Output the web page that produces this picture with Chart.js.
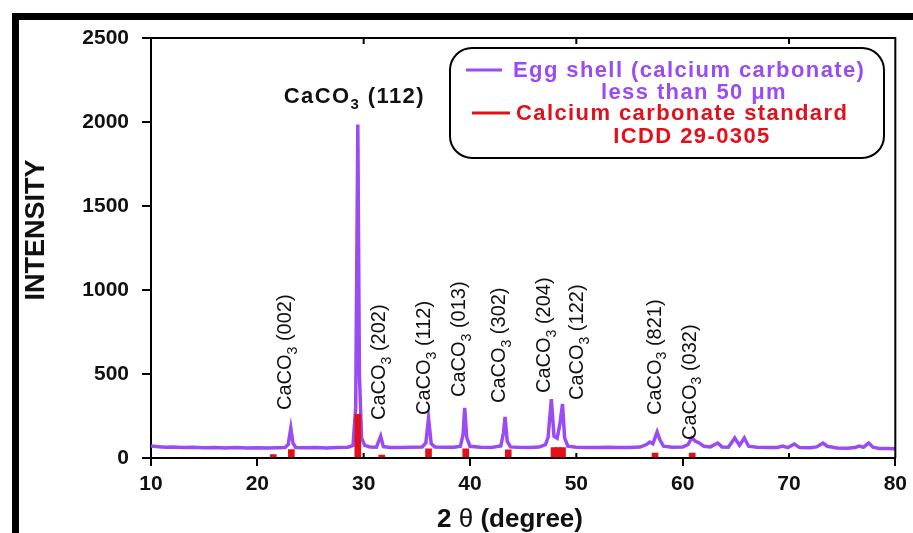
<!DOCTYPE html>
<html>
<head>
<meta charset="utf-8">
<script src="https://cdn.jsdelivr.net/npm/chart.js@4.4.1/dist/chart.umd.min.js"></script>
<style>
  html, body { margin: 0; padding: 0; background: #fff; }
  #wrap { width: 913px; height: 533px; }
</style>
</head>
<body>
<div id="wrap"><canvas id="xrdChart" width="913" height="533"></canvas></div>
<script>
// XRD pattern of egg shell powder
const eggAngle = [10, 10.5, 11, 11.5, 12, 13, 14, 15, 16, 17, 18, 19, 20, 21, 22, 22.6, 22.9, 23.15, 23.35, 23.6,
  24.5, 25.5, 26.5, 27.5, 28.5, 29.0, 29.25, 29.45, 29.6, 29.8, 30.1, 30.6, 31.2, 31.6, 31.85,
  32.5, 33.5, 34.5, 35.5, 35.85, 36.1, 36.35, 36.7, 37.5, 38.5, 39.1, 39.35, 39.5, 39.7, 40.0,
  41, 42, 42.9, 43.15, 43.3, 43.5, 43.8, 44.5, 45.5, 46.5, 47.1, 47.35, 47.65, 47.9, 48.2, 48.45, 48.7, 48.9, 49.2,
  50, 51, 52, 53, 54, 55, 56, 56.6, 56.9, 57.2, 57.6, 57.85, 58.2, 59, 60, 60.5, 60.85, 61.2, 61.6, 62.0, 62.6,
  63.3, 63.7, 64.3, 64.9, 65.35, 65.8, 66.2, 67, 68, 68.9, 69.4, 69.9, 70.5, 71, 72, 72.6, 73.2, 73.6,
  74.5, 75.5, 76.2, 76.6, 77.0, 77.5, 77.9, 78.5, 79.3, 80];
const eggCounts = [72, 68, 66, 64, 66, 62, 64, 61, 63, 60, 62, 60, 61, 60, 61, 62, 80, 178, 90, 63,
  61, 62, 60, 62, 64, 75, 300, 1985, 500, 120, 75, 66, 64, 130, 68,
  63, 62, 64, 66, 90, 238, 85, 66, 64, 64, 70, 140, 298, 120, 70,
  64, 63, 72, 150, 244, 100, 66, 64, 63, 65, 80, 125, 351, 130, 118, 200, 321, 120, 70,
  64, 63, 62, 64, 62, 63, 65, 80, 95, 85, 155, 110, 70, 64, 65, 80, 119, 100, 88, 70, 66,
  89, 66, 64, 119, 75, 119, 70, 64, 62, 63, 71, 62, 83, 62, 61, 66, 89, 70,
  60, 58, 62, 71, 64, 89, 64, 57, 56, 55];

// ICDD 29-0305 reference lines
const stdAngle = [21.5, 23.2, 29.45, 31.7, 36.1, 39.6, 43.6, 47.9, 48.3, 48.7, 57.4, 60.9];
const stdCounts = [20, 50, 260, 18, 54, 54, 48, 62, 62, 62, 30, 30];

// Miller index tags above the peaks
const tagHkl = ['(002)', '(202)', '(112)', '(013)', '(302)', '(204)', '(122)', '(821)', '(032)'];
const tagAngle = [22.97, 31.8, 36.0, 39.3, 43.1, 47.3, 50.4, 57.7, 61.0];
const tagBase = [286, 226, 256, 363, 327, 387, 345, 256, 107];

const xTicks = [10, 20, 30, 40, 50, 60, 70, 80];
const yTicks = [0, 500, 1000, 1500, 2000, 2500];
const innerTicks = [30, 50, 70];

const eggLegend = ['Egg shell (calcium carbonate)', 'less than 50 \u03bcm'];
const stdLegend = ['Calcium carbonate standard', 'ICDD 29-0305'];

const PURPLE = '#9a4cf2';
const RED = '#e3101c';
const FONT = "'Liberation Sans', Arial, sans-serif";

Chart.defaults.font.family = FONT;
Chart.defaults.color = '#111';

function drawCaCO3(ctx, x, y, suffix, size) {
  // "CaCO" + subscript 3 + suffix, left aligned at (x, y) on the middle line
  ctx.textAlign = 'left';
  ctx.textBaseline = 'middle';
  ctx.fillText('CaCO', x, y);
  let w = ctx.measureText('CaCO').width;
  const main = ctx.font;
  ctx.font = ctx.font.replace(/\d+px/, Math.round(size * 0.68) + 'px');
  ctx.fillText('3', x + w, y + size * 0.36);
  w += ctx.measureText('3').width;
  ctx.font = main;
  ctx.fillText(' ' + suffix, x + w, y);
}

const decorations = {
  id: 'decorations',
  beforeDraw(chart) {
    const ctx = chart.ctx;
    ctx.save();
    ctx.fillStyle = '#fff';
    ctx.fillRect(0, 0, chart.width, chart.height);
    ctx.fillStyle = '#000';
    ctx.fillRect(12, 13, chart.width - 12, 7);
    ctx.fillRect(12, 13, 7, chart.height - 13);
    ctx.restore();
  },
  afterDraw(chart) {
    const { ctx, chartArea: a, scales: { x, y } } = chart;
    ctx.save();

    // box top and right, plus inward ticks
    ctx.strokeStyle = '#000';
    ctx.lineWidth = 2;
    ctx.beginPath();
    ctx.moveTo(a.left, a.top);
    ctx.lineTo(a.right, a.top);
    ctx.lineTo(a.right, a.bottom);
    innerTicks.forEach(v => {
      const px = x.getPixelForValue(v);
      ctx.moveTo(px, a.top);
      ctx.lineTo(px, a.top + 6);
      ctx.moveTo(px, a.bottom);
      ctx.lineTo(px, a.bottom - 5);
    });
    ctx.stroke();

    // axis titles
    ctx.fillStyle = '#111';
    ctx.save();
    ctx.translate(37, 230);
    ctx.rotate(-Math.PI / 2);
    ctx.font = 'bold 27px ' + FONT;
    ctx.textAlign = 'center';
    ctx.textBaseline = 'middle';
    ctx.fillText('INTENSITY', 0, 0);
    ctx.restore();

    ctx.textBaseline = 'middle';
    ctx.textAlign = 'left';
    const parts = [['2 ', 'bold 26px '], ['\u03b8', '26px '], [' (degree)', 'bold 26px ']];
    let tw = 0;
    parts.forEach(p => { ctx.font = p[1] + FONT; tw += ctx.measureText(p[0]).width; });
    let tx = 510 - tw / 2;
    parts.forEach(p => {
      ctx.font = p[1] + FONT;
      ctx.fillText(p[0], tx, 520);
      tx += ctx.measureText(p[0]).width;
    });

    // peak tags, rotated
    ctx.font = '20px ' + FONT;
    tagHkl.forEach((hkl, i) => {
      ctx.save();
      ctx.translate(x.getPixelForValue(tagAngle[i]) - 3, y.getPixelForValue(tagBase[i]));
      ctx.rotate(-Math.PI / 2);
      drawCaCO3(ctx, 0, 0, hkl, 20);
      ctx.restore();
    });

    // main peak tag
    ctx.font = 'bold 22px ' + FONT;
    const mx = x.getPixelForValue(29.45);
    const my = y.getPixelForValue(2150);
    ctx.letterSpacing = '1.4px';
    drawCaCO3(ctx, mx - 74, my, '(112)', 22);
    ctx.letterSpacing = '0px';

    // legend box
    ctx.lineWidth = 2;
    ctx.strokeStyle = '#000';
    ctx.beginPath();
    ctx.roundRect(450, 48, 434, 110, 22);
    ctx.stroke();

    ctx.lineWidth = 3;
    ctx.strokeStyle = PURPLE;
    ctx.beginPath();
    ctx.moveTo(466, 70);
    ctx.lineTo(502, 70);
    ctx.stroke();
    ctx.strokeStyle = RED;
    ctx.beginPath();
    ctx.moveTo(472, 113);
    ctx.lineTo(510, 113);
    ctx.stroke();

    ctx.font = 'bold 22px ' + FONT;
    ctx.letterSpacing = '1.4px';
    ctx.textBaseline = 'middle';
    ctx.fillStyle = PURPLE;
    ctx.textAlign = 'left';
    ctx.fillText(eggLegend[0], 513, 71);
    ctx.textAlign = 'center';
    ctx.fillText(eggLegend[1], 694, 93);
    ctx.fillStyle = RED;
    ctx.textAlign = 'left';
    ctx.fillText(stdLegend[0], 516, 114);
    ctx.textAlign = 'center';
    ctx.fillText(stdLegend[1], 692, 137);
    ctx.restore();
  }
};

const ctxXrd = document.getElementById('xrdChart').getContext('2d');
new Chart(ctxXrd, {
  type: 'line',
  data: {
    datasets: [{
      type: 'bar',
      label: stdLegend.join(' '),
      data: stdAngle.map((a, i) => ({ x: a, y: stdCounts[i] })),
      backgroundColor: RED,
      barThickness: 6,
      order: 1
    }, {
      type: 'line',
      label: eggLegend.join(' '),
      data: eggAngle.map((a, i) => ({ x: a, y: eggCounts[i] })),
      borderColor: PURPLE,
      borderWidth: 3.5,
      pointRadius: 0,
      tension: 0,
      order: 2
    }]
  },
  options: {
    responsive: false,
    animation: false,
    devicePixelRatio: 1,
    layout: { padding: { top: 38, right: 17, left: 0, bottom: 0 } },
    plugins: { legend: { display: false }, tooltip: { enabled: false } },
    scales: {
      x: {
        type: 'linear',
        min: 10,
        max: 80,
        offset: false,
        afterFit: s => { s.height = 75; },
        afterBuildTicks: s => { s.ticks = xTicks.map(v => ({ value: v })); },
        grid: {
          offset: false,
          drawOnChartArea: false,
          tickLength: 8,
          lineWidth: 2,
          color: c => innerTicks.includes(c.tick && c.tick.value) ? 'rgba(0,0,0,0)' : '#000'
        },
        border: { color: '#000', width: 2 },
        ticks: { font: { size: 21, weight: 'bold' }, color: '#111', padding: 6, maxRotation: 0, callback: v => String(v) }
      },
      y: {
        min: 0,
        max: 2500,
        afterFit: s => { s.width = 151; },
        afterBuildTicks: s => { s.ticks = yTicks.map(v => ({ value: v })); },
        grid: { drawOnChartArea: false, tickLength: 9, lineWidth: 2, color: '#000' },
        border: { color: '#000', width: 2 },
        ticks: { font: { size: 21, weight: 'bold' }, color: '#111', padding: 13, callback: v => String(v) }
      }
    }
  },
  plugins: [decorations]
});
</script>
</body>
</html>
